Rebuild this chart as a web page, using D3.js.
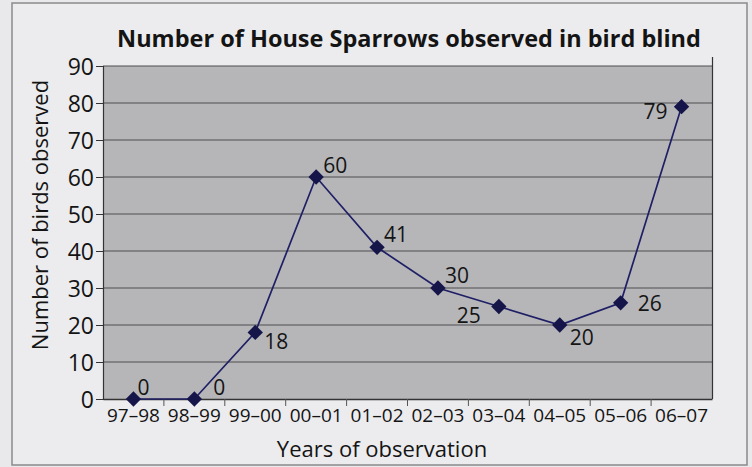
<!DOCTYPE html>
<html>
<head>
<meta charset="utf-8">
<script src="https://cdn.jsdelivr.net/npm/d3@7"></script>
<style>
  html, body { margin: 0; padding: 0; background: #e9e9eb; }
  svg { display: block; }
  text { font-family: "Open Sans", "DejaVu Sans", sans-serif; fill: #141414; }
</style>
</head>
<body>
<svg id="chart" width="752" height="467"></svg>
<script>
// ---- data ----
const categories = ["97–98","98–99","99–00","00–01","01–02","02–03","03–04","04–05","05–06","06–07"];
const values = [0, 0, 18, 60, 41, 30, 25, 20, 26, 79];
const yTicks = [0, 10, 20, 30, 40, 50, 60, 70, 80, 90];
const chartTitle = "Number of House Sparrows observed in bird blind";
const xTitle = "Years of observation";
const yTitle = "Number of birds observed";
// label placement (anchor, dx, dy) per point
const labelPos = [
  ["start", 4, -4], ["start", 19, -4], ["start", 9, 17], ["start", 7, -4], ["start", 7, -5],
  ["start", 7, -5], ["end", -18, 16], ["start", 10, 20], ["start", 17, 8], ["end", -14, 12]
];

const svg = d3.select("#chart");

// outer frame
svg.append("rect").attr("x", 12).attr("y", 3).attr("width", 735).attr("height", 462)
  .attr("fill", "#ececee").attr("stroke", "#8a8a8c").attr("stroke-width", 1.5);

const x = d3.scaleBand().domain(categories).range([103, 712]).padding(0);
const y = d3.scaleLinear().domain([0, 90]).range([399, 66]);

// plot background
svg.append("rect").attr("x", 103).attr("y", 66).attr("width", 609).attr("height", 333)
  .attr("fill", "#b6b6b9");

// gridlines
svg.append("g").selectAll("line").data(yTicks.filter(d => d > 0)).join("line")
  .attr("x1", 103).attr("x2", 712)
  .attr("y1", d => y(d)).attr("y2", d => y(d))
  .attr("stroke", "#4e4e50").attr("stroke-width", 1.2);

// right border (extends a bit above plot)
svg.append("line").attr("x1", 712.5).attr("x2", 712.5).attr("y1", 57).attr("y2", 399)
  .attr("stroke", "#333").attr("stroke-width", 1.2);

// y axis
const yAxis = svg.append("g").attr("transform", "translate(103,0)")
  .call(d3.axisLeft(y).tickValues(yTicks).tickSize(7).tickPadding(2));
yAxis.select(".domain").attr("stroke", "#333").attr("stroke-width", 1.2);
yAxis.selectAll(".tick line").attr("stroke", "#333");
yAxis.selectAll("text").style("font-size", "23px").attr("fill", "#141414")
  .style("font-family", "'Open Sans', sans-serif").attr("dy", "0.36em");

// x axis
const xAxis = svg.append("g").attr("transform", "translate(0,399)")
  .call(d3.axisBottom(x).tickSize(0).tickPadding(10));
xAxis.select(".domain").attr("stroke", "#333").attr("stroke-width", 1.4);
xAxis.selectAll("text").style("font-size", "19px").attr("fill", "#141414")
  .style("font-family", "'Open Sans', sans-serif");
// tick marks between categories
svg.append("g").selectAll("line").data(categories.slice(1)).join("line")
  .attr("x1", d => x(d)).attr("x2", d => x(d)).attr("y1", 399).attr("y2", 406)
  .attr("stroke", "#555").attr("stroke-width", 1);

// line
const line = d3.line().x((d, i) => x(categories[i]) + x.bandwidth() / 2).y(d => y(d));
svg.append("path").datum(values).attr("d", line)
  .attr("fill", "none").attr("stroke", "#1f1f66").attr("stroke-width", 1.7);

// markers
svg.append("g").selectAll("path").data(values).join("path")
  .attr("d", d3.symbol().type(d3.symbolDiamond2).size(150))
  .attr("transform", (d, i) => `translate(${x(categories[i]) + x.bandwidth() / 2},${y(d)})`)
  .attr("fill", "#15154a");

// data labels
svg.append("g").selectAll("text").data(values).join("text")
  .attr("x", (d, i) => x(categories[i]) + x.bandwidth() / 2 + labelPos[i][1])
  .attr("y", (d, i) => y(d) + labelPos[i][2])
  .attr("text-anchor", (d, i) => labelPos[i][0])
  .style("font-size", "21px")
  .text(d => d);

// title: fit font size to target width
const title = svg.append("text").attr("x", 409).attr("y", 47).attr("text-anchor", "middle")
  .style("font-size", "26px").style("font-weight", "bold")
  .text(chartTitle);
const tw = title.node().getComputedTextLength();
if (tw > 0) title.style("font-size", (26 * 584 / tw).toFixed(2) + "px");

// axis titles
svg.append("text").attr("x", 382).attr("y", 457).attr("text-anchor", "middle")
  .style("font-size", "22px").text(xTitle);
svg.append("text").attr("transform", "translate(48,215) rotate(-90)").attr("text-anchor", "middle")
  .style("font-size", "22px").text(yTitle);
</script>
</body>
</html>
